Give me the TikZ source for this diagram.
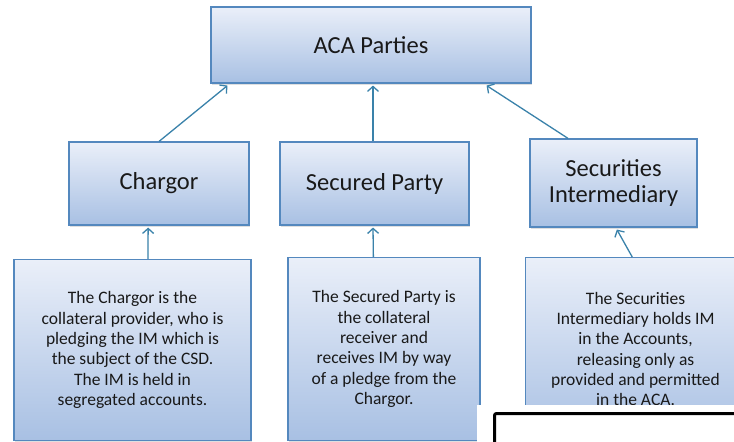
\documentclass[tikz,border=0pt]{standalone}
\usepackage{fontspec}
\setmainfont{Carlito}
\usetikzlibrary{arrows.meta,shadows,calc}
\definecolor{boxtop}{RGB}{234,239,249}
\definecolor{boxbot}{RGB}{168,192,227}
\definecolor{boxline}{RGB}{84,136,190}
\definecolor{arrcol}{RGB}{58,130,170}
\definecolor{txt}{RGB}{25,25,25}
\tikzset{
  pbox/.style={draw=boxline, line width=1.1pt, top color=boxtop, bottom color=boxbot,
    inner sep=0pt, align=center, text=txt,
    drop shadow={shadow xshift=1pt, shadow yshift=-1.5pt, opacity=0.25}},
  titlefont/.style={font=\fontsize{24.5}{26}\selectfont},
  descfont/.style={font=\fontsize{17.5}{20.3}\selectfont},
  arr/.style={draw=arrcol, line width=1.3pt, -{Straight Barb[length=5pt,width=11pt]}}
}
\begin{document}
\begin{tikzpicture}[x=1pt,y=-1pt]
\useasboundingbox[fill=white] (0,0) rectangle (734,442);
% top
\node[pbox, titlefont, minimum width=320pt, minimum height=76pt] (aca) at (371,45) {ACA Parties};
% middle
\node[pbox, titlefont, minimum width=180pt, minimum height=83pt] (chargor) at (159,183.5) {Chargor};
\node[pbox, titlefont, minimum width=189pt, minimum height=83pt] (sp) at (374.5,183.5) {Secured Party};
\node[pbox, titlefont, minimum width=167pt, minimum height=88pt] (si) at (613.5,183) {Securities\\Intermediary};
% bottom
\node[pbox, descfont, minimum width=237pt, minimum height=181pt] (d1) at (132.5,350) {The Chargor is the\\collateral provider, who is\\pledging the IM which is\\the subject of the CSD.\\The IM is held in\\segregated accounts.};
\node[pbox, descfont, minimum width=192pt, minimum height=183pt] (d2) at (384,349) {The Secured Party is\\the collateral\\receiver and\\receives IM by way\\of a pledge from the\\Chargor.};
\node[pbox, descfont, minimum width=220pt, minimum height=183pt, anchor=north west] (d3) at (525,257) {The Securities\\Intermediary holds IM\\in the Accounts,\\releasing only as\\provided and permitted\\in the ACA.};
% arrows
\draw[arr] (chargor.north) -- ($(aca.south west)!0.053!(aca.south east)+(0,2)$);
\draw[arr] ($(sp.north)+(-1.5,0)$) -- ($(aca.south)+(2,2)$);
\draw[arr] ($(si.north west)!0.23!(si.north east)$) -- ($(aca.south west)!0.86!(aca.south east)+(0,2)$);
\draw[arr] ($(d1.north west)!0.565!(d1.north east)$) -- ($(chargor.south west)!0.44!(chargor.south east)+(0,2)$);
\draw[arr] ($(d2.north west)!0.445!(d2.north east)$) -- ($(sp.south)+(-1.5,2)$);
\draw[arr] ($(d3.north west)!0.485!(d3.north east)$) -- ($(si.south west)!0.52!(si.south east)+(0,2)$);
% overlay at bottom right
\fill[white] (477,405) rectangle (740,450);
\draw[line width=3pt, rounded corners=2pt] (494.5,413.5) rectangle (750,460);
\end{tikzpicture}
\end{document}
